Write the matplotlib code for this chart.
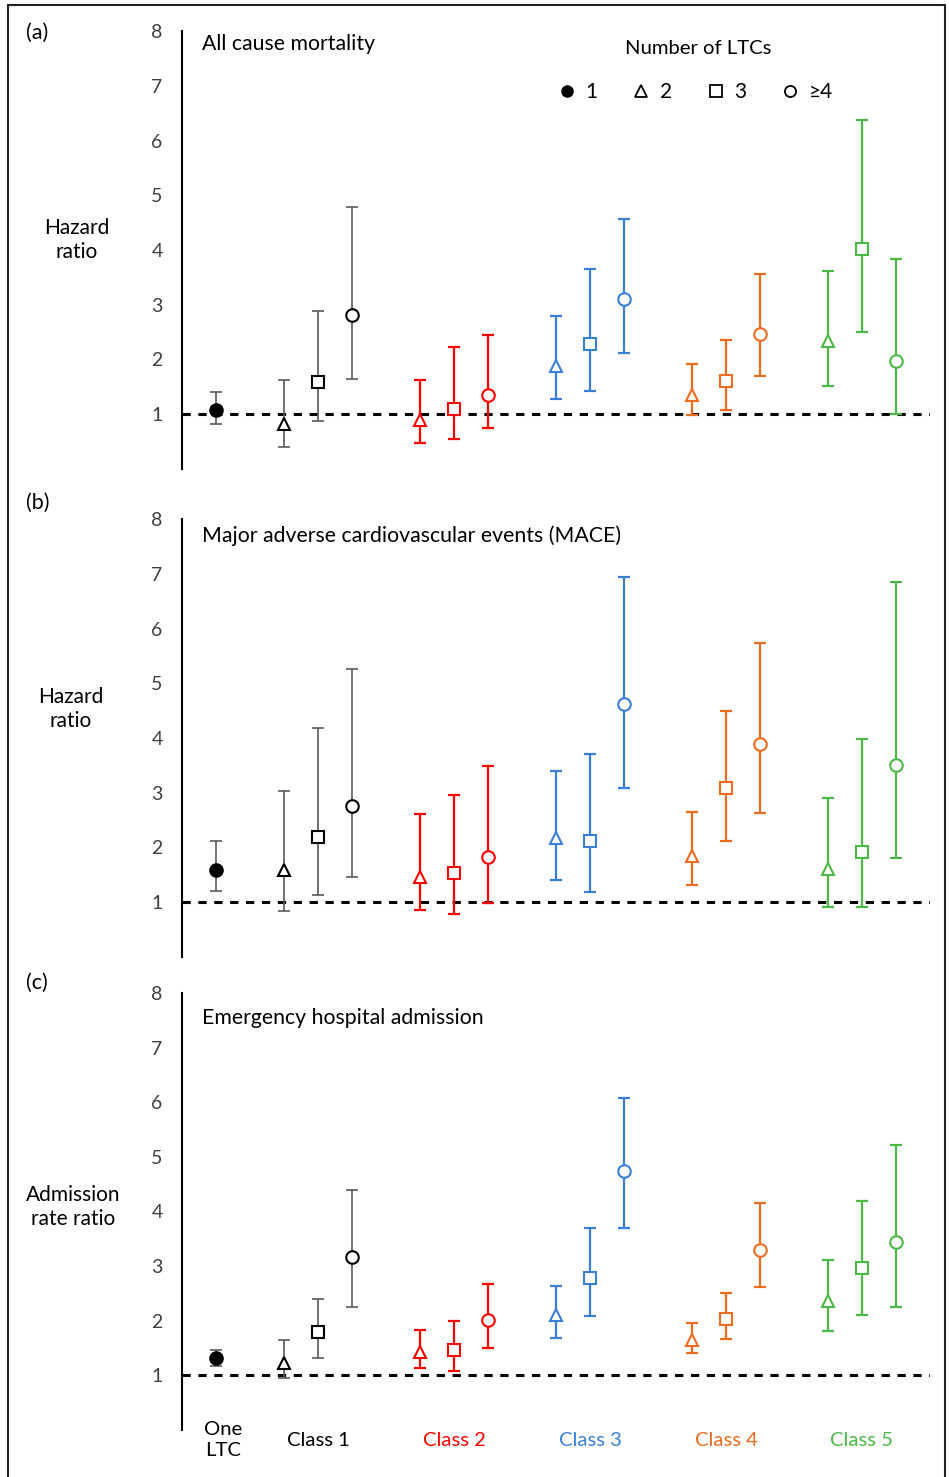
import matplotlib
matplotlib.use('Agg')
import matplotlib.pyplot as plt
from matplotlib.lines import Line2D
from matplotlib.patches import Rectangle

plt.rcParams['font.family'] = ['Lato', 'DejaVu Sans']

# slots along the x axis: One LTC, then 3 points (2, 3, >=4 LTCs) per class
positions = [0, 2, 3, 4, 6, 7, 8, 10, 11, 12, 14, 15, 16, 18, 19, 20]
group_of_point = [0, 1, 1, 1, 2, 2, 2, 3, 3, 3, 4, 4, 4, 5, 5, 5]
marker_of_point = ['o'] + ['^', 's', 'o'] * 5

group_names = ['One\nLTC', 'Class 1', 'Class 2', 'Class 3', 'Class 4', 'Class 5']
group_label_x = [0.2, 3, 7, 11, 15, 19]
group_colors = ['black', 'black', '#FF0000', '#3A7FD5', '#EE6A1E', '#4CB847']
bar_colors = ['#595959', '#595959', '#FF0000', '#3A7FD5', '#EE6A1E', '#4CB847']

# (a) all cause mortality
mort_est = [1.07, 0.82, 1.59, 2.81, 0.90, 1.10, 1.35, 1.88, 2.29, 3.11, 1.36, 1.60, 2.46, 2.33, 4.01, 1.97]
mort_lo = [0.82, 0.40, 0.87, 1.64, 0.48, 0.54, 0.74, 1.27, 1.43, 2.11, 0.98, 1.07, 1.69, 1.52, 2.50, 1.00]
mort_hi = [1.41, 1.63, 2.88, 4.79, 1.63, 2.23, 2.44, 2.80, 3.65, 4.57, 1.91, 2.36, 3.57, 3.61, 6.38, 3.83]

# (b) MACE
mace_est = [1.59, 1.58, 2.20, 2.76, 1.47, 1.53, 1.83, 2.18, 2.11, 4.62, 1.85, 3.09, 3.89, 1.61, 1.91, 3.50]
mace_lo = [1.20, 0.84, 1.14, 1.46, 0.85, 0.78, 0.98, 1.41, 1.19, 3.08, 1.32, 2.12, 2.63, 0.91, 0.91, 1.80]
mace_hi = [2.11, 3.03, 4.19, 5.26, 2.61, 2.96, 3.48, 3.39, 3.70, 6.94, 2.65, 4.50, 5.74, 2.90, 3.98, 6.85]

# (c) emergency hospital admission
adm_est = [1.32, 1.22, 1.79, 3.16, 1.43, 1.46, 2.02, 2.11, 2.78, 4.74, 1.65, 2.04, 3.30, 2.37, 2.97, 3.45]
adm_lo = [1.17, 0.96, 1.32, 2.26, 1.13, 1.08, 1.51, 1.69, 2.08, 3.69, 1.41, 1.66, 2.61, 1.82, 2.10, 2.26]
adm_hi = [1.47, 1.64, 2.40, 4.39, 1.83, 1.99, 2.67, 2.63, 3.70, 6.07, 1.96, 2.51, 4.15, 3.11, 4.20, 5.22]

panels = [
    ('(a)', 'All cause mortality', 'Hazard\nratio', mort_est, mort_lo, mort_hi),
    ('(b)', 'Major adverse cardiovascular events (MACE)', 'Hazard\nratio', mace_est, mace_lo, mace_hi),
    ('(c)', 'Emergency hospital admission', 'Admission\nrate ratio', adm_est, adm_lo, adm_hi),
]
legend_labels = ['1', '2', '3', '\u22654']

W, H = 949, 1477
fig = plt.figure(figsize=(W / 100, H / 100), dpi=100)

# pixel boxes (top, bottom) of the three axes
boxes = [(31, 469), (519, 957), (993, 1430)]
panel_label_y = [33, 503, 983]
ylabel_pos = [(77, 240), (71, 709), (73, 1207)]
title_y = [7.76, 7.70, 7.54]
ax_left, ax_right = 182, 930

for k, (tag, title, ylab, est, lo, hi) in enumerate(panels):
    top, bot = boxes[k]
    ax = fig.add_axes([ax_left / W, 1 - bot / H, (ax_right - ax_left) / W, (bot - top) / H])
    ax.set_xlim(-1, 21)
    ax.set_ylim(0, 8)
    for s in ['top', 'right', 'bottom']:
        ax.spines[s].set_visible(False)
    ax.spines['left'].set_linewidth(1.5)
    ax.set_xticks([])
    ax.set_yticks(range(1, 9))
    ax.tick_params(axis='y', length=0, pad=14, labelsize=14, labelcolor='#404040')

    ax.axhline(1, color='black', lw=2.2, linestyle=(0, (2.7, 2.5)), zorder=1)

    for i in range(len(positions)):
        g = group_of_point[i]
        face = 'black' if g == 0 else 'white'
        lw = 1.2 if g <= 1 else 1.6
        ax.errorbar(positions[i], est[i],
                    yerr=[[est[i] - lo[i]], [hi[i] - est[i]]],
                    fmt='none', ecolor=bar_colors[g], elinewidth=lw,
                    capsize=4, capthick=lw, zorder=2)
        ax.plot(positions[i], est[i], marker=marker_of_point[i], markersize=9,
                markerfacecolor=face, markeredgecolor=group_colors[g],
                markeredgewidth=1.5, linestyle='none', zorder=3)

    ax.text(-0.4, title_y[k], title, fontsize=15.3, ha='left', va='center')
    fig.text(26 / W, 1 - panel_label_y[k] / H, tag, fontsize=15.5, ha='left', va='center')
    fig.text(ylabel_pos[k][0] / W, 1 - ylabel_pos[k][1] / H, ylab, fontsize=15,
             ha='center', va='center', linespacing=1.3)

    if k == 0:
        ax.text(14.18, 7.68, 'Number of LTCs', fontsize=14.6, ha='center', va='center')
        handles = [
            Line2D([0], [0], marker='o', color='black', markerfacecolor='black',
                   markersize=8, linestyle='none'),
            Line2D([0], [0], marker='^', color='black', markerfacecolor='white',
                   markersize=8, markeredgewidth=1.3, linestyle='none'),
            Line2D([0], [0], marker='s', color='black', markerfacecolor='white',
                   markersize=8, markeredgewidth=1.3, linestyle='none'),
            Line2D([0], [0], marker='o', color='black', markerfacecolor='white',
                   markersize=8, markeredgewidth=1.3, linestyle='none'),
        ]
        ax.legend(handles, legend_labels, ncol=4, frameon=False, fontsize=15,
                  handlelength=0.8, handletextpad=0.5, columnspacing=1.7,
                  borderpad=0, borderaxespad=0, loc='center left',
                  bbox_to_anchor=(0.503, 0.861))

    if k == 2:
        for name, gx, col in zip(group_names, group_label_x, group_colors):
            ax.text(gx, -0.19, name, fontsize=14.6, color=col, ha='center',
                    va='center', linespacing=1.3, clip_on=False)

fig.patches.append(Rectangle((8 / W, -0.01), (945 - 8) / W, (H - 4.7) / H + 0.01,
                             transform=fig.transFigure, fill=False,
                             edgecolor='#222222', linewidth=1.5))

fig.savefig('out.png', dpi=100)
